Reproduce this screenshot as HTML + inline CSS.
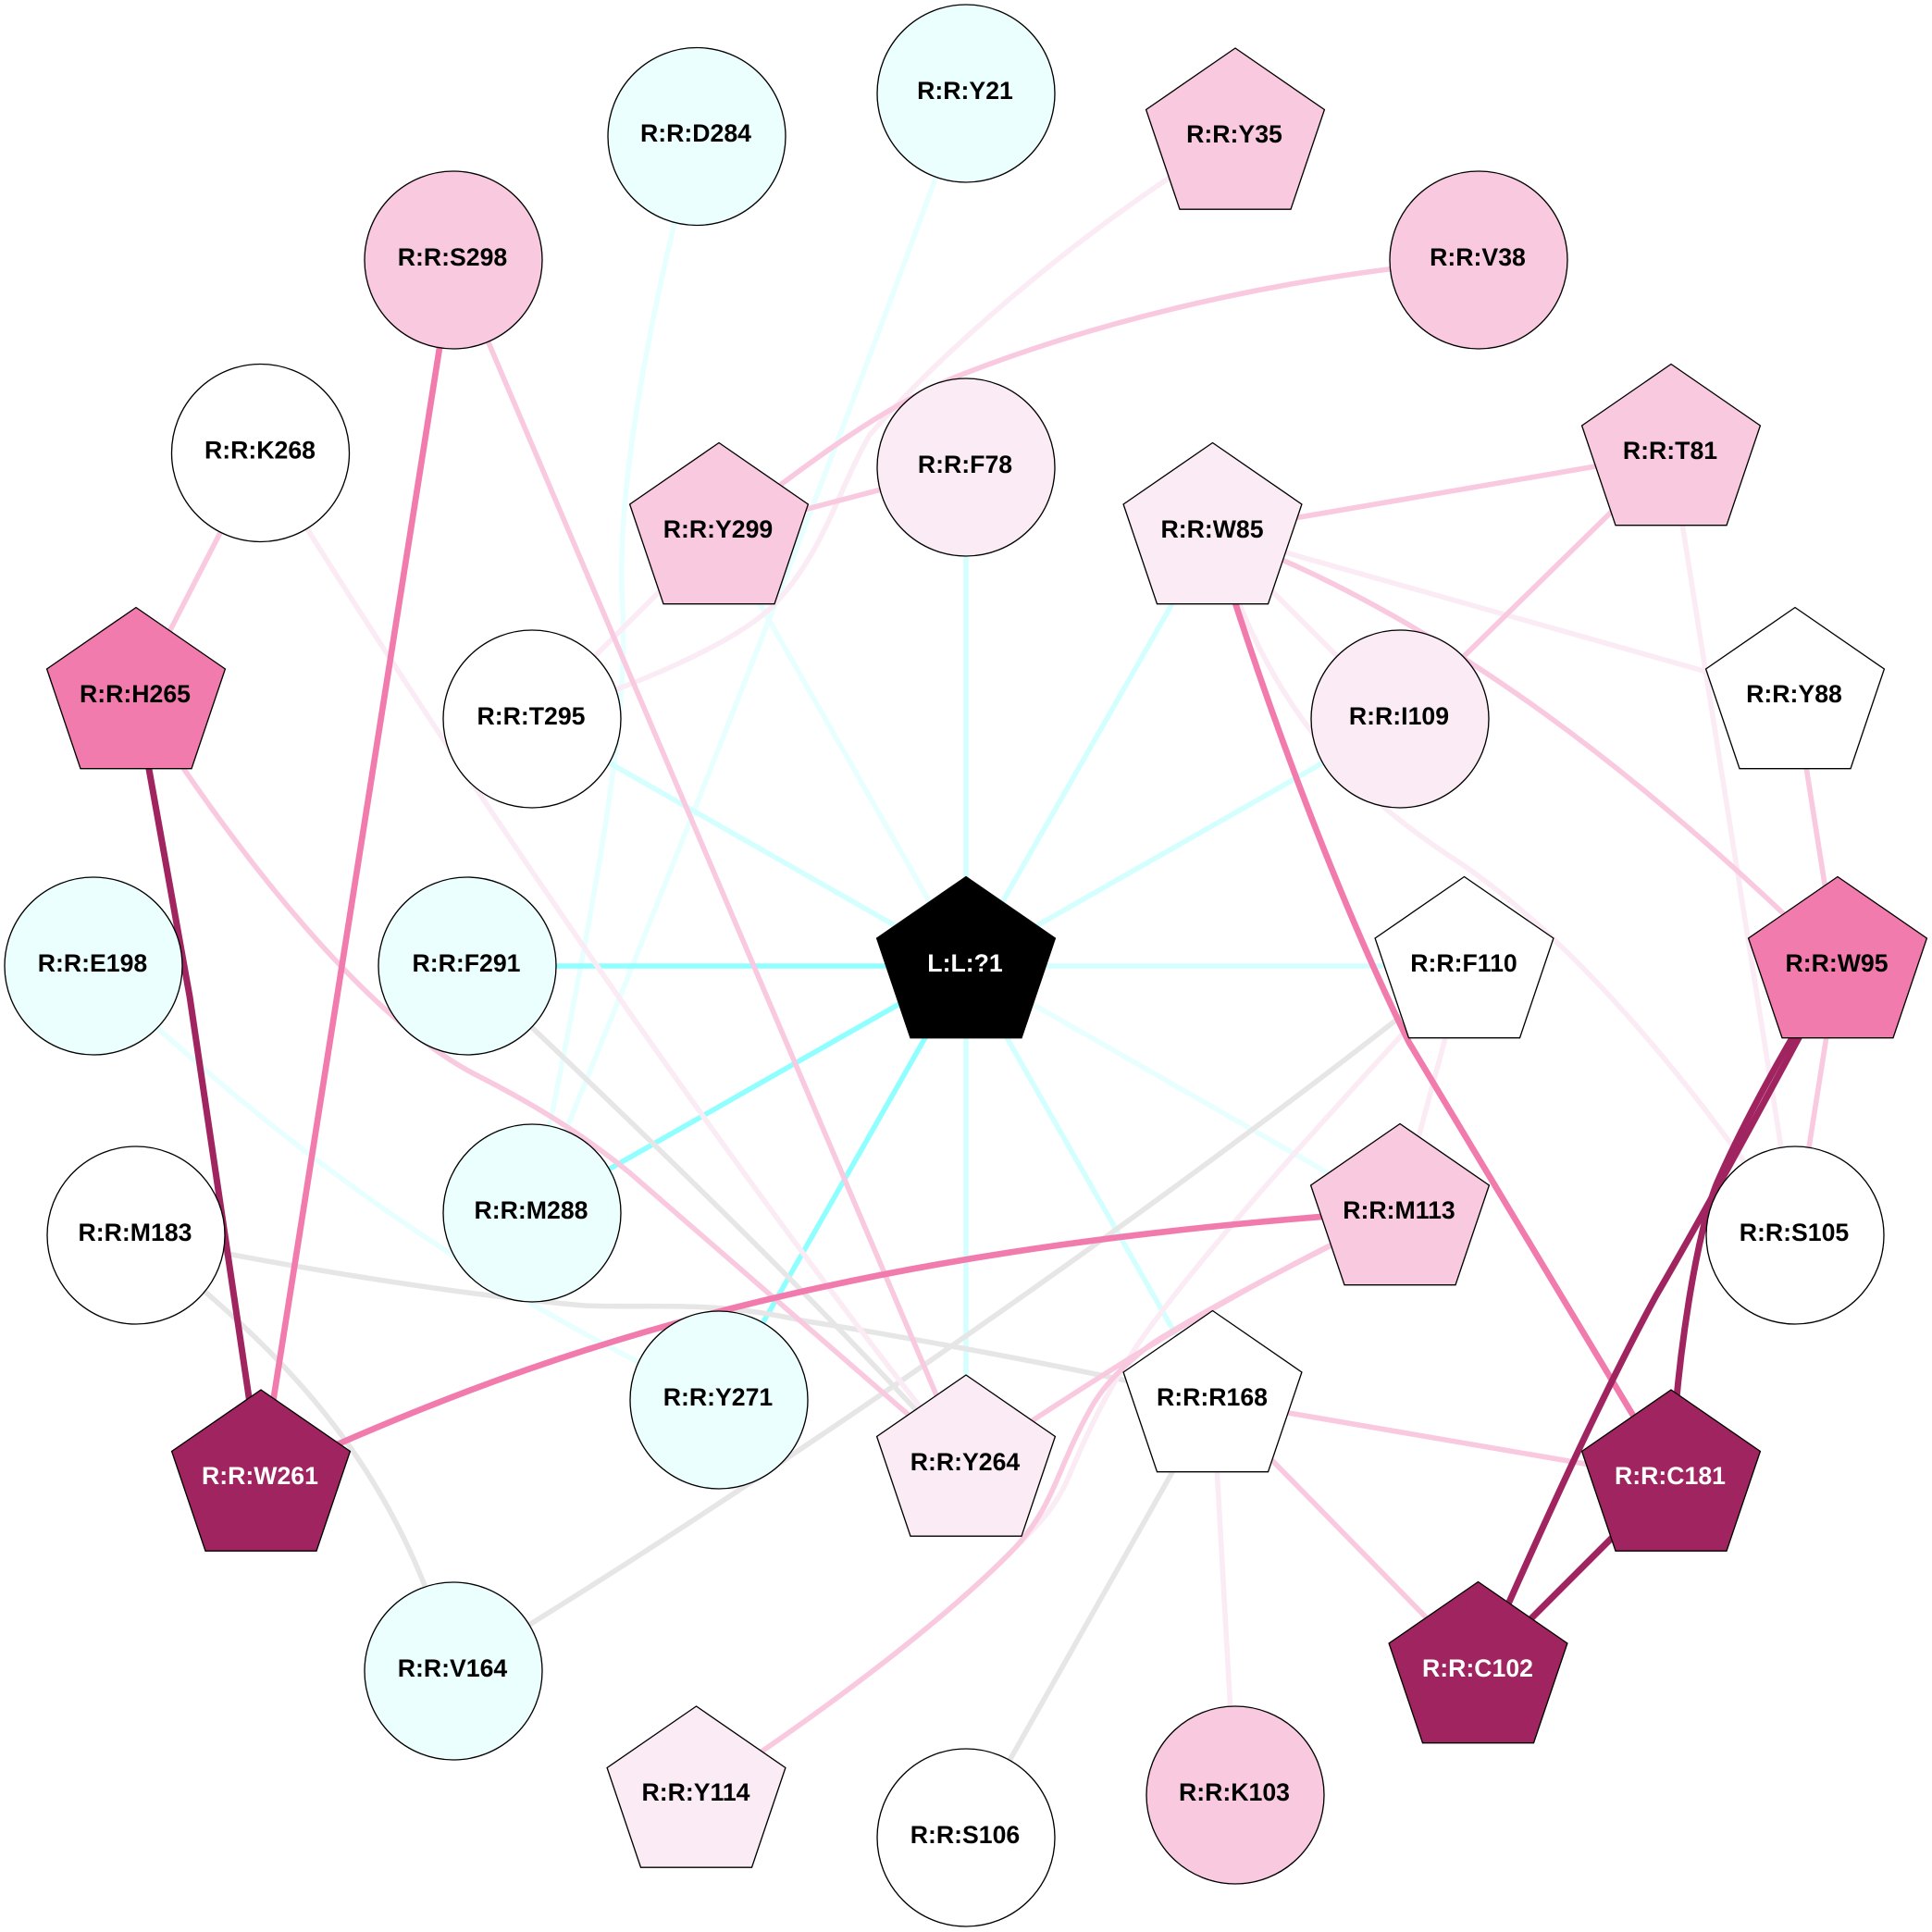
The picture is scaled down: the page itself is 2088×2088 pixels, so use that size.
<!DOCTYPE html>
<html><head><meta charset="utf-8"><style>
html,body{margin:0;padding:0;background:#fff}
svg{display:block}
text{font-family:"Liberation Sans",Arial,sans-serif;font-weight:bold;font-size:26.67px;text-anchor:middle;fill:#000}
.e path,.e line{fill:none;stroke-width:5.6}
.e .m path,.e .m line{stroke-width:6.67}
.e .d path,.e .d line{stroke-width:7}
circle,use{stroke:#000;stroke-width:1.33}
</style></head><body>
<svg width="2088" height="2088" viewBox="0 0 2088 2088" xmlns="http://www.w3.org/2000/svg">
<defs><polygon id="p" points="0,-96.5 96.4,-30 60,77.7 -60,77.7 -96.4,-30"/></defs>
<rect width="2088" height="2088" fill="#fff"/>
<g class="e" stroke-linecap="butt">
<g stroke="#E8FFFF">
<path d="M753,147C712,300 668,500 672,640C682,770 648,950 575,1311"/>
<path d="M1044,101C930,420 760,860 575,1311"/>
<path d="M101,1044C270,1215 520,1400 777,1513"/>
<line x1="1044" y1="1044" x2="777" y2="575"/>
<line x1="1044" y1="1044" x2="1511" y2="1311"/>
</g>
<g stroke="#D4FFFF">
<line x1="1044" y1="1044" x2="1044" y2="505"/>
<line x1="1044" y1="1044" x2="575" y2="777"/>
<line x1="1044" y1="1044" x2="1311" y2="575"/>
<line x1="1044" y1="1044" x2="1513" y2="777"/>
<line x1="1044" y1="1044" x2="1583" y2="1044"/>
<line x1="1044" y1="1044" x2="1311" y2="1513"/>
<line x1="1044" y1="1044" x2="1044" y2="1583"/>
</g>
<g stroke="#8FFFFF">
<line x1="1044" y1="1044" x2="777" y2="1513"/>
<line x1="1044" y1="1044" x2="575" y2="1311"/>
<line x1="1044" y1="1044" x2="505" y2="1044"/>
</g>
<g stroke="#E6E6E6">
<path d="M505,1044C680,1210 880,1400 1044,1583"/>
<path d="M147,1335C300,1368 500,1400 632,1411C700,1414 770,1405 866,1427C960,1442 1150,1475 1311,1513"/>
<path d="M147,1335C320,1470 430,1590 490,1806"/>
<path d="M490,1806C800,1620 1250,1310 1583,1044"/>
<line x1="1311" y1="1513" x2="1044" y2="1986"/>
</g>
<g stroke="#FBEBF4">
<path d="M1335,148C1200,225 1030,365 940,470C905,530 890,600 833,657C790,697 690,740 575,777"/>
<line x1="777" y1="575" x2="575" y2="777"/>
<path d="M282,490C420,720 760,1230 1044,1583"/>
<path d="M753,1940C860,1870 1000,1770 1090,1680C1125,1645 1135,1635 1150,1607C1165,1575 1180,1530 1227,1457C1300,1350 1450,1190 1583,1044"/>
<line x1="1583" y1="1044" x2="1511" y2="1311"/>
<line x1="1311" y1="575" x2="1513" y2="777"/>
<line x1="1311" y1="575" x2="1940" y2="753"/>
<path d="M1311,575C1370,760 1450,850 1577,932C1700,1015 1830,1170 1940,1335"/>
<line x1="1806" y1="490" x2="1940" y2="1335"/>
<line x1="1311" y1="1513" x2="1335" y2="1940"/>
</g>
<g stroke="#F9C9DF">
<path d="M1598,281C1420,295 1220,335 1044,403C960,435 880,495 777,575"/>
<line x1="1044" y1="505" x2="777" y2="575"/>
<line x1="490" y1="281" x2="1044" y2="1583"/>
<line x1="282" y1="490" x2="147" y2="753"/>
<path d="M147,753C260,930 400,1105 519,1164C570,1190 625,1222 680,1267L1044,1583"/>
<path d="M753,1940C860,1870 1000,1770 1090,1680C1140,1630 1140,1590 1180,1520C1200,1485 1240,1455 1253,1447C1330,1400 1420,1355 1511,1310"/>
<path d="M1044,1583C1200,1478 1340,1390 1511,1310"/>
<line x1="1311" y1="575" x2="1806" y2="490"/>
<line x1="1806" y1="490" x2="1513" y2="777"/>
<path d="M1311,575C1560,665 1790,850 1986,1044"/>
<line x1="1940" y1="753" x2="1986" y2="1044"/>
<line x1="1986" y1="1044" x2="1940" y2="1335"/>
<line x1="1311" y1="1513" x2="1806" y2="1598"/>
<line x1="1311" y1="1513" x2="1598" y2="1806"/>
</g>
<g stroke="#F27BAD" class="m">
<line x1="490" y1="281" x2="282" y2="1598"/>
<path d="M282,1598C560,1470 880,1350 1511,1309"/>
<path d="M1311,575C1370,770 1450,980 1523,1127L1806,1598"/>
</g>
<g stroke="#A0245F" class="d">
<path d="M147,753C170,880 190,990 205,1077L282,1598"/>
<path d="M1986,1044C1950,1110 1860,1280 1790,1400C1730,1510 1660,1665 1598,1806"/>
<path d="M1986,1044C1950,1095 1890,1200 1855,1280C1835,1330 1812,1460 1806,1598"/>
<line x1="1806" y1="1598" x2="1598" y2="1806"/>
</g>
</g>
<circle cx="1044" cy="101" r="96" fill="#EAFFFE"/><text x="1043" y="107">R:R:Y21</text>
<circle cx="753" cy="147.5" r="96" fill="#EAFFFE"/><text x="752" y="153">R:R:D284</text>
<use href="#p" x="1335" y="148.5" fill="#F9C9DF"/><text x="1334" y="154">R:R:Y35</text>
<circle cx="1598" cy="281" r="96" fill="#F9C9DF"/><text x="1597" y="287">R:R:V38</text>
<use href="#p" x="1806" y="490" fill="#F9C9DF"/><text x="1805" y="496">R:R:T81</text>
<use href="#p" x="1940" y="753" fill="#fff"/><text x="1939" y="759">R:R:Y88</text>
<use href="#p" x="1986" y="1044" fill="#F27BAD"/><text x="1985" y="1050">R:R:W95</text>
<circle cx="1940" cy="1335" r="96" fill="#fff"/><text x="1939" y="1341">R:R:S105</text>
<use href="#p" x="1806" y="1598.5" fill="#A0245F"/><text x="1805" y="1604" style="fill:#fff">R:R:C181</text>
<use href="#p" x="1597.5" y="1806" fill="#A0245F"/><text x="1597" y="1812" style="fill:#fff">R:R:C102</text>
<circle cx="1335" cy="1940" r="96" fill="#F9C9DF"/><text x="1334" y="1946">R:R:K103</text>
<circle cx="1044" cy="1986" r="96" fill="#fff"/><text x="1043" y="1992">R:R:S106</text>
<use href="#p" x="752.5" y="1940.5" fill="#FBEBF4"/><text x="752" y="1946">R:R:Y114</text>
<circle cx="490" cy="1806" r="96" fill="#EAFFFE"/><text x="489" y="1812">R:R:V164</text>
<use href="#p" x="282" y="1598.5" fill="#A0245F"/><text x="281" y="1604" style="fill:#fff">R:R:W261</text>
<circle cx="147" cy="1335" r="96" fill="#fff"/><text x="146" y="1341">R:R:M183</text>
<circle cx="101" cy="1044" r="96" fill="#EAFFFE"/><text x="100" y="1050">R:R:E198</text>
<use href="#p" x="147" y="753" fill="#F27BAD"/><text x="146" y="759">R:R:H265</text>
<circle cx="281.5" cy="489.5" r="96" fill="#fff"/><text x="281" y="495.5">R:R:K268</text>
<circle cx="490" cy="281" r="96" fill="#F9C9DF"/><text x="489" y="287">R:R:S298</text>
<circle cx="1044" cy="505" r="96" fill="#FBEBF4"/><text x="1043" y="511">R:R:F78</text>
<use href="#p" x="1310.5" y="575" fill="#FBEBF4"/><text x="1310" y="581">R:R:W85</text>
<circle cx="1513" cy="777" r="96" fill="#FBEBF4"/><text x="1512" y="783">R:R:I109</text>
<use href="#p" x="1582.5" y="1044" fill="#fff"/><text x="1582" y="1050">R:R:F110</text>
<use href="#p" x="1513" y="1311" fill="#F9C9DF"/><text x="1512" y="1317">R:R:M113</text>
<use href="#p" x="1310.5" y="1513" fill="#fff"/><text x="1310" y="1519">R:R:R168</text>
<use href="#p" x="1044" y="1582.5" fill="#FBEBF4"/><text x="1043" y="1589">R:R:Y264</text>
<circle cx="777" cy="1513" r="96" fill="#EAFFFE"/><text x="776" y="1519">R:R:Y271</text>
<circle cx="575" cy="1311" r="96" fill="#EAFFFE"/><text x="574" y="1317">R:R:M288</text>
<circle cx="505" cy="1044" r="96" fill="#EAFFFE"/><text x="504" y="1050">R:R:F291</text>
<circle cx="575" cy="777" r="96" fill="#fff"/><text x="574" y="783">R:R:T295</text>
<use href="#p" x="777" y="575" fill="#F9C9DF"/><text x="776" y="581">R:R:Y299</text>
<use href="#p" x="1044" y="1044" fill="#000"/><text x="1043" y="1050" style="fill:#fff">L:L:?1</text>
</svg>
</body></html>
